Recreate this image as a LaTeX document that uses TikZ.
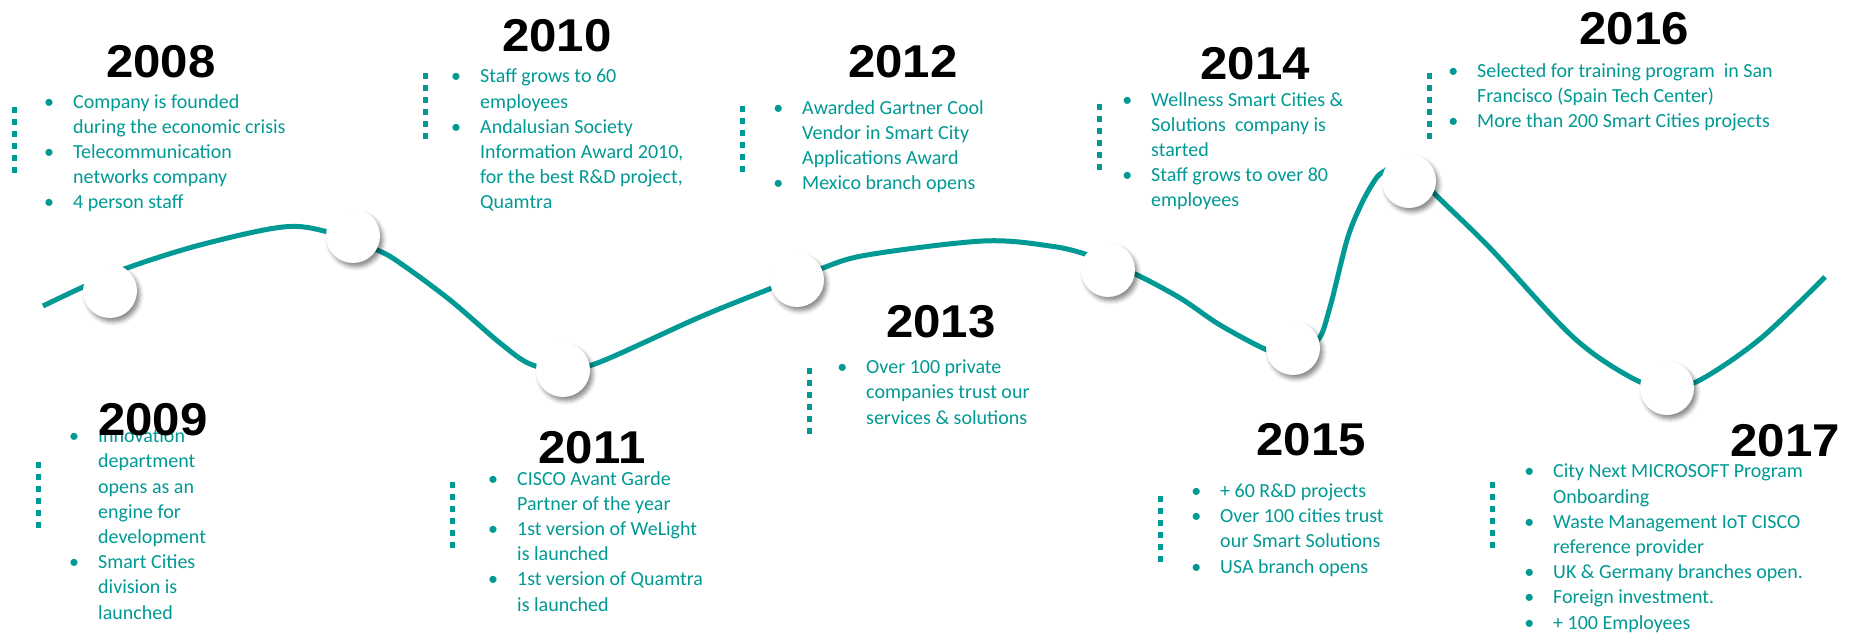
\documentclass[tikz,border=0pt]{standalone}
\usepackage{fontspec}
\setmainfont{Carlito}
\newfontfamily\yearfont[FakeStretch=1.07]{Liberation Sans}
\usetikzlibrary{shadows.blur}
\definecolor{wteal}{RGB}{0,153,148}

\newcommand{\bul}{\llap{\textbullet\hspace{19pt}}}

\begin{document}
\begin{tikzpicture}[x=1pt,y=1pt,
  dot/.style={circle, fill=white, minimum size=54pt, inner sep=0pt,
    blur shadow={shadow xshift=3pt, shadow yshift=-4pt, shadow blur radius=4pt, shadow opacity=45}},
  yr/.style={anchor=base, inner sep=0pt, font=\yearfont\bfseries\fontsize{46}{46}\selectfont},
  info/.style={anchor=base west, align=left, inner sep=0pt, text=wteal, font=\fontsize{20}{25.2}\selectfont},
  bar/.style={wteal, line width=5pt, dash pattern=on 6pt off 6pt}]
\useasboundingbox (0,0) rectangle (1854,635);

% Wave
\draw[wteal, line width=5pt, line cap=butt] plot[smooth, tension=0.55] coordinates {
  (43,329) (83,348) (127,367) (200,390) (283,408) (328,403) (377,385)
  (400,372) (450,335) (500,292) (530,271) (563,265) (600,273) (700,318)
  (772,347) (820,366) (867,380) (983,394) (1050,389) (1088,380) (1133,362)
  (1180,337) (1220,310) (1267,285) (1292,279) (1318,295) (1330,328)
  (1347,395) (1360,428) (1373,452) (1383,463) (1408,473) (1433,443)
  (1490,387) (1573,298) (1632,257) (1667,247) (1700,255) (1760,296)
  (1825,358)};

% Circles
\node[dot] (c1) at (110,344) {};
\node[dot] (c2) at (353,399) {};
\node[dot] (c3) at (563,265) {};
\node[dot] (c4) at (797,355) {};
\node[dot] (c5) at (1108,365) {};
\node[dot] (c6) at (1293,287) {};
\node[dot] (c7) at (1409,454) {};
\node[dot] (c8) at (1667,247) {};

% Dotted bars
\draw[bar] (14,528) -- ++(0,-66);
\draw[bar] (38,173) -- ++(0,-66);
\draw[bar] (425,562) -- ++(0,-66);
\draw[bar] (452,153) -- ++(0,-66);
\draw[bar] (742,529) -- ++(0,-66);
\draw[bar] (809,267) -- ++(0,-66);
\draw[bar] (1099,531) -- ++(0,-66);
\draw[bar] (1160,139) -- ++(0,-66);
\draw[bar] (1429,562) -- ++(0,-66);
\draw[bar] (1492,153) -- ++(0,-66);

% Texts (placed at the baseline of their last line)
\node[info] (t2008) at (73,426) {\bul Company is founded\\ during the economic crisis\\ \bul Telecommunication\\ networks company\\ \bul 4 person staff};
\node[info] (t2009) at (98,16) {\bul Innovation\\ department\\ opens as an\\ engine for\\ development\\ \bul Smart Cities\\ division is\\ launched};
\node[info] (t2010) at (480,426) {\bul Staff grows to 60\\ employees\\ \bul Andalusian Society\\ Information Award 2010,\\ for the best R\&D project,\\ Quamtra};
\node[info] (t2011) at (517,24) {\bul CISCO Avant Garde\\ Partner of the year\\ \bul 1st version of WeLight\\ is launched\\ \bul 1st version of Quamtra\\ is launched};
\node[info] (t2012) at (802,445) {\bul Awarded Gartner Cool\\ Vendor in Smart City\\ Applications Award\\ \bul Mexico branch opens};
\node[info] (t2013) at (866,211) {\bul Over 100 private\\ companies trust our\\ services \& solutions};
\node[info] (t2014) at (1151,428) {\bul Wellness Smart Cities \&\\ Solutions\ \ company is\\ started\\ \bul Staff grows to over 80\\ employees};
\node[info] (t2015) at (1220,62) {\bul + 60 R\&D projects\\ \bul Over 100 cities trust\\ our Smart Solutions\\ \bul USA branch opens};
\node[info] (t2016) at (1477,507) {\bul Selected for training program\ \ in San\\ Francisco (Spain Tech Center)\\ \bul More than 200 Smart Cities projects};
\node[info] (t2017) at (1553,6) {\bul City Next MICROSOFT Program\\ Onboarding\\ \bul Waste Management IoT CISCO\\ reference provider\\ \bul UK \& Germany branches open.\\ \bul Foreign investment.\\ \bul + 100 Employees};

% Years
\node[yr] (y2008) at (161,557) {2008};
\node[yr] (y2009) at (153,200) {2009};
\node[yr] (y2010) at (557,583) {2010};
\node[yr] (y2011) at (592,172) {2011};
\node[yr] (y2012) at (903,557) {2012};
\node[yr] (y2013) at (941,297) {2013};
\node[yr] (y2014) at (1255,555) {2014};
\node[yr] (y2015) at (1311,180) {2015};
\node[yr] (y2016) at (1634,590) {2016};
\node[yr] (y2017) at (1785,179) {2017};
\end{tikzpicture}
\end{document}
